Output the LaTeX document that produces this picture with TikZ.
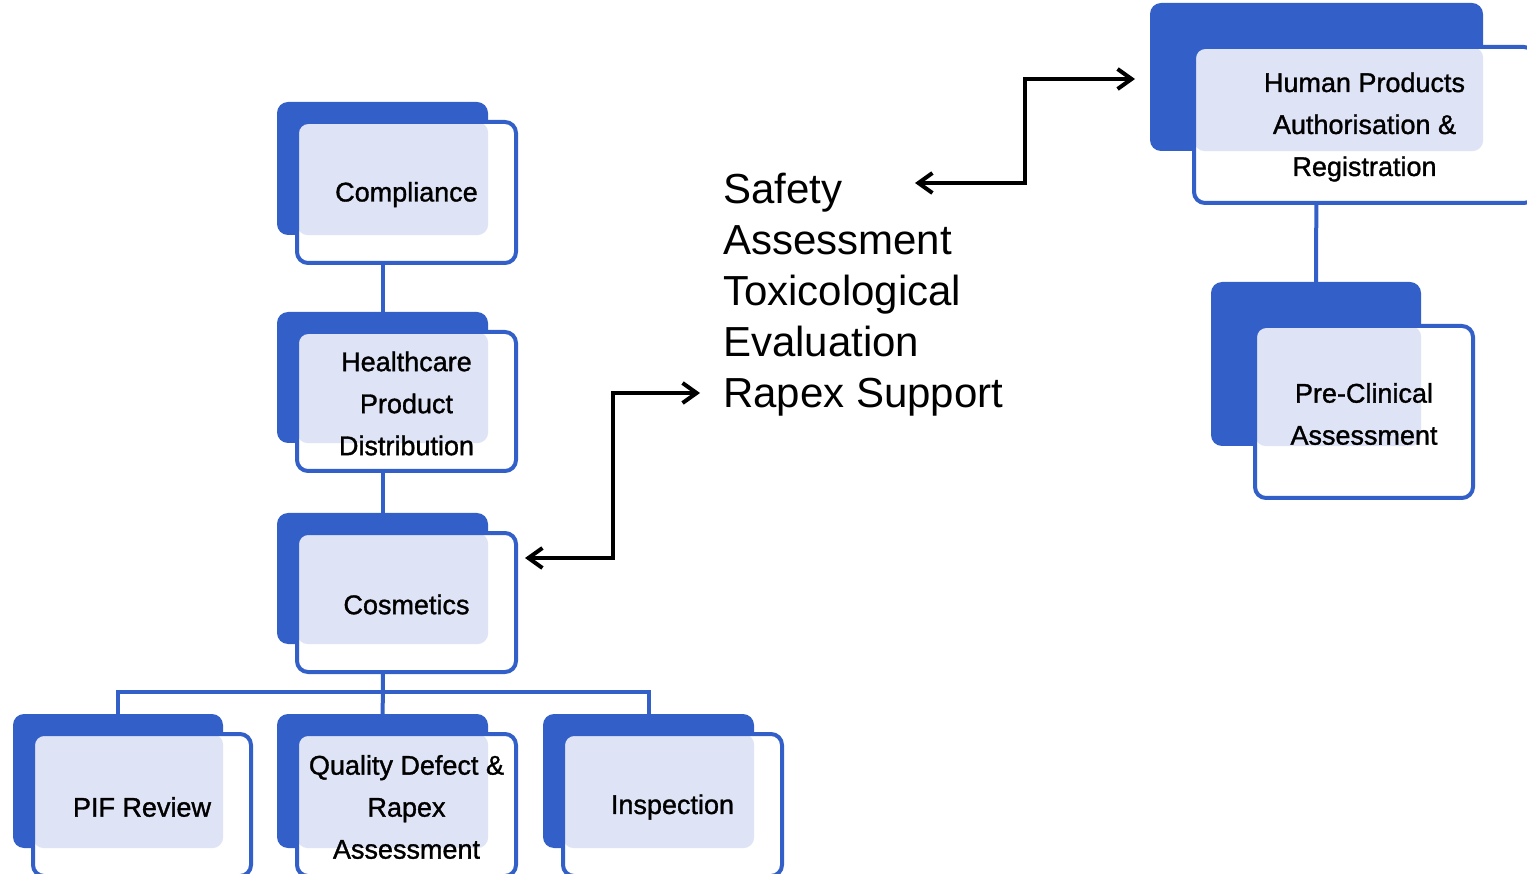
\documentclass[tikz,border=0pt]{standalone}
\usepackage{fontspec}
\setmainfont{Liberation Sans}
\newfontfamily\cardfont[FakeBold=1.2]{Liberation Sans}
\usetikzlibrary{arrows.meta,backgrounds}
\definecolor{cardblue}{RGB}{50,96,200}
\definecolor{cardtint}{RGB}{222,228,245}

\tikzset{
  cardback/.style={fill=cardblue,rounded corners=11pt,inner sep=0pt},
  cardfront/.style={draw=cardblue,line width=4pt,fill=white,rounded corners=11pt},
  cardtext/.style={align=center,inner sep=0pt,font=\cardfont\fontsize{27}{42}\selectfont},
  link/.style={draw=cardblue,line width=4pt},
  twoway/.style={<->,line width=4pt,>={Straight Barb[length=14pt,width=20pt]}},
}

% name, front box x1 y1 x2 y2, back offsets, text
\newcommand{\card}[8]{%
  \node[cardback,minimum width={#4-#2+#6-#7},minimum height={#5-#3+#6-#7}]
    (#1-b) at ({(#2+#4-#6-#7)/2},{(#3+#5-#6-#7)/2}) {};
  \node[cardfront,minimum width={#4-#2},minimum height={#5-#3},
    path picture={\fill[cardtint] (path picture bounding box.north west) rectangle (#1-b.south east);}]
    (#1) at ({(#2+#4)/2},{(#3+#5)/2}) {};
  \node[cardtext] (#1-t) at ([yshift=-2pt]#1.center) {#8};
}

\begin{document}
\begin{tikzpicture}[x=1pt,y=-1pt]
  \clip (0,0) rectangle (1527,874);
  \card{comp}{297}{122}{516}{263}{20}{28}{Compliance}
  \card{hcare}{297}{332}{516}{471}{20}{28}{Healthcare\\Product\\Distribution}
  \card{cosm}{297}{533}{516}{672}{20}{28}{Cosmetics}
  \card{pif}{33}{734}{251}{876}{20}{28}{PIF Review}
  \card{qual}{297}{734}{516}{876}{20}{28}{Quality Defect \&\\Rapex\\Assessment}
  \card{insp}{563}{734}{782}{876}{20}{28}{Inspection}
  \card{human}{1194}{47}{1535}{203}{44}{52}{Human Products\\Authorisation \&\\Registration}
  \card{precl}{1255}{326}{1473}{498}{44}{52}{Pre-Clinical\\Assessment}

  \node[anchor=west,align=left,inner sep=0pt,font=\fontsize{42}{51}\selectfont]
    (svc) at (723,295) {Safety\\Assessment\\Toxicological\\Evaluation\\Rapex Support};

  \begin{scope}[on background layer]
    \coordinate (bus) at (383,692);
    \draw[link] (comp-b) -- (hcare-b);
    \draw[link] (hcare-b) -- (cosm-b);
    \draw[link] (cosm-b) -- (bus);
    \draw[link] (pif-b.north) |- (bus) -| (insp-b.north);
    \draw[link] (bus) -- (qual-b.north);
    \draw[link] (human-b) -- (precl-b);
  \end{scope}

  \coordinate (cosm-in) at (525,558);
  \coordinate (rapex) at (700,393);
  \coordinate (safety) at (915,183);
  \coordinate (human-in) at (1135,79);
  \draw[twoway] (cosm-in) -| (613,393) -- (rapex);
  \draw[twoway] (safety) -| (1025,79) -- (human-in);
\end{tikzpicture}
\end{document}
